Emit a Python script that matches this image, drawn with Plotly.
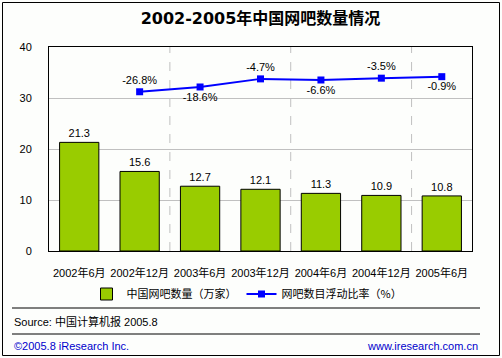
import plotly.graph_objects as go

categories = ["2002年6月", "2002年12月", "2003年6月", "2003年12月", "2004年6月", "2004年12月", "2005年6月"]
bar_values = [21.3, 15.6, 12.7, 12.1, 11.3, 10.9, 10.8]
rate_categories = categories[1:]
rate_values = [-26.8, -18.6, -4.7, -6.6, -3.5, -0.9]
rate_labels = ["-26.8%", "-18.6%", "-4.7%", "-6.6%", "-3.5%", "-0.9%"]
rate_positions = ["top center", "bottom center", "top center", "bottom center", "top center", "bottom center"]
y_ticks = [0, 10, 20, 30, 40]
year_dividers = [1.5, 3.5, 5.5]

FONT = "Liberation Sans, Arial, Noto Sans CJK SC, sans-serif"
CJK = "Noto Sans CJK SC, Liberation Sans, sans-serif"

fig = go.Figure()
fig.add_trace(go.Bar(
    x=categories, y=bar_values, name="中国网吧数量（万家）",
    marker=dict(color="#99CC00", line=dict(color="black", width=1)),
    width=0.65,
    text=[f"{v}" for v in bar_values], textposition="outside",
    textfont=dict(size=11, color="black", family=FONT),
    cliponaxis=False,
))
fig.add_trace(go.Scatter(
    x=rate_categories, y=rate_values, name="网吧数目浮动比率（%）",
    mode="lines+markers+text", yaxis="y2",
    line=dict(color="#0000FF", width=2),
    marker=dict(symbol="square", size=7, color="#0000FF"),
    text=rate_labels, textposition=rate_positions,
    textfont=dict(size=11, color="black", family=FONT),
    cliponaxis=False,
))

shapes = []
for xd in year_dividers:
    shapes.append(dict(type="line", xref="x", yref="paper", x0=xd, x1=xd, y0=0, y1=1,
                       line=dict(color="#C0C0C0", width=1, dash="dash"), layer="below"))
W, H = 502, 358
L, R, T, B = 49, 30, 47, 107
pw, ph = W - L - R, H - T - B
def px(x):
    return (x - L) / pw
def py(y):
    return (H - B - y) / ph
shapes.append(dict(type="line", xref="paper", yref="paper", x0=px(12), x1=px(480), y0=py(308), y1=py(308),
                   line=dict(color="black", width=1)))
shapes.append(dict(type="line", xref="paper", yref="paper", x0=px(12), x1=px(480), y0=py(334), y1=py(334),
                   line=dict(color="black", width=1)))
shapes.append(dict(type="rect", xref="paper", yref="paper", x0=px(2.5), x1=px(499.5), y0=py(355.5), y1=py(2.5),
                   line=dict(color="black", width=1)))

annotations = [
    dict(text="Source: 中国计算机报 2005.8", xref="paper", yref="paper", x=px(12), y=py(321),
         xanchor="left", yanchor="middle", showarrow=False, font=dict(size=11, color="black", family=FONT)),
    dict(text="©2005.8 iResearch Inc.", xref="paper", yref="paper", x=px(12), y=py(346),
         xanchor="left", yanchor="middle", showarrow=False, font=dict(size=11, color="#0000CC", family=FONT)),
    dict(text="www.iresearch.com.cn", xref="paper", yref="paper", x=px(480), y=py(346),
         xanchor="right", yanchor="middle", showarrow=False, font=dict(size=11, color="#0000CC", family=FONT)),
]

fig.update_layout(
    width=W, height=H,
    margin=dict(l=L, r=R, t=T, b=B),
    paper_bgcolor="#FDFEFC", plot_bgcolor="#FDFEFC",
    title=dict(text="<b>2002-2005年中国网吧数量情况</b>", x=0.5, xref="paper", xanchor="center",
               y=(H - 18) / H, yanchor="middle", yref="container",
               font=dict(size=16, color="black", family="DejaVu Sans, Noto Sans CJK SC, sans-serif")),
    font=dict(family=FONT, size=11, color="black"),
    bargap=0.35,
    showlegend=True,
    legend=dict(orientation="h", x=px(247), xanchor="center", y=py(294), yanchor="middle",
                font=dict(size=11, family=CJK, color="black"), bgcolor="rgba(0,0,0,0)",
                traceorder="normal"),
    xaxis=dict(type="category", showgrid=False, showline=True, linecolor="black", linewidth=1, mirror=True,
               ticks="", ticklabelstandoff=12, tickfont=dict(size=11, family=FONT),
               range=[-0.5, 6.5]),
    yaxis=dict(range=[0, 40], tickvals=y_ticks, showgrid=True, gridcolor="#C0C0C0", gridwidth=1,
               showline=True, linecolor="black", linewidth=1, mirror=True, zeroline=False,
               ticks="", ticklabelstandoff=14, tickfont=dict(size=11, family=FONT)),
    yaxis2=dict(range=[-300, 50], overlaying="y", side="right", visible=False, showgrid=False),
    shapes=shapes,
    annotations=annotations,
)

fig.write_html("out.html", config={"displayModeBar": False},
               post_script="document.body.style.margin='0';document.body.style.overflow='hidden';")
